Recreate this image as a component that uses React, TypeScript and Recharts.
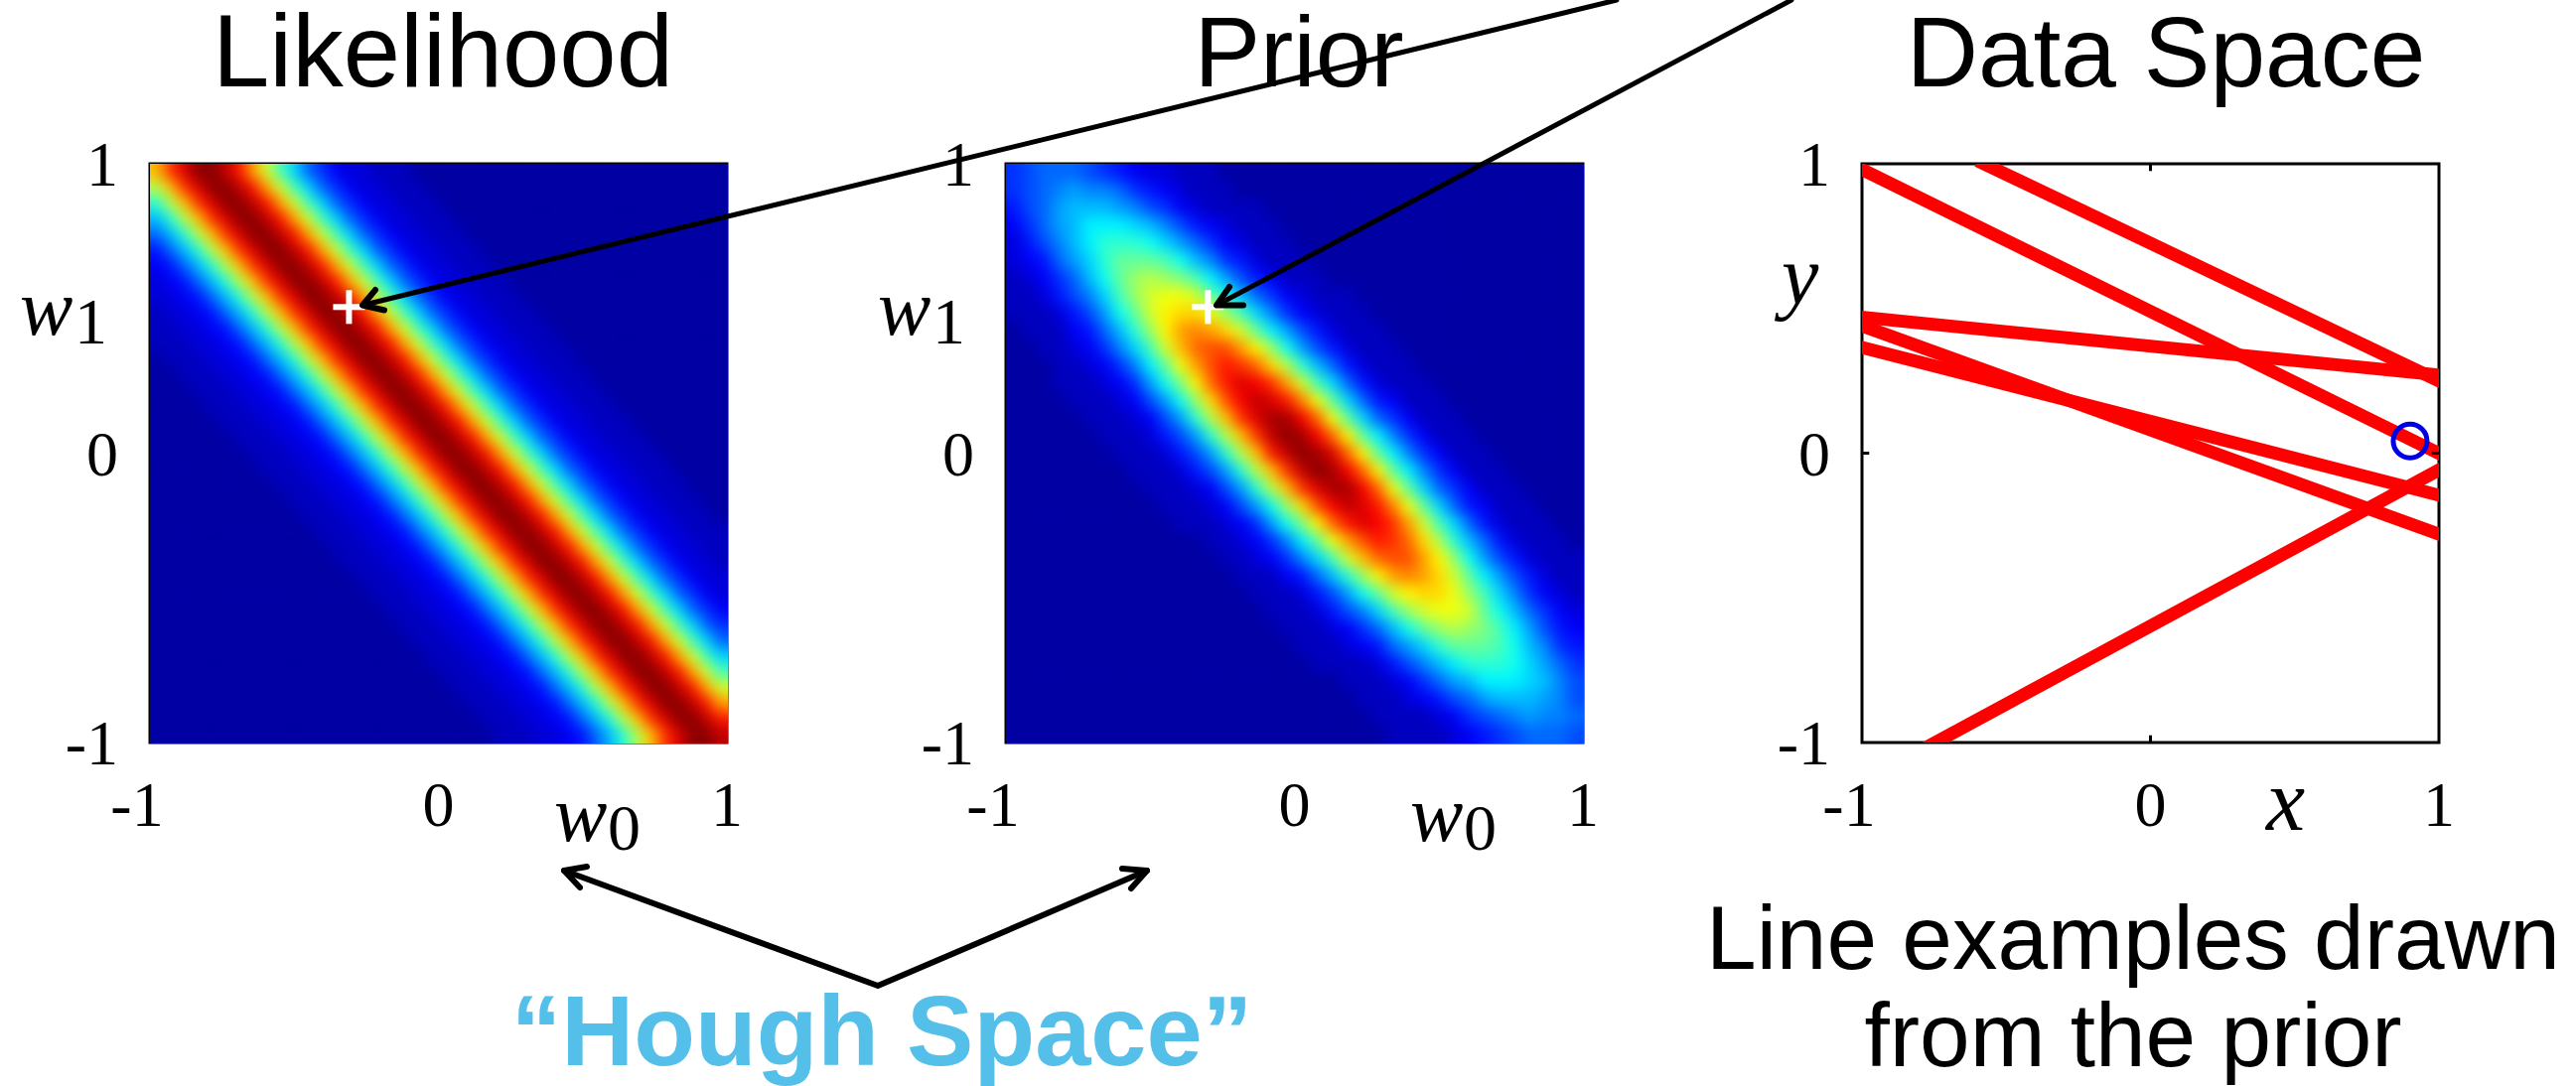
import { ComposedChart, Line, ReferenceArea, ReferenceLine, Scatter, ScatterChart, XAxis, YAxis } from "recharts"

// heatmap levels, base 36 (0 = dark blue, z = dark red), read top row first. rows are 0 on the right where cut short
const likelihoodRows = [
  "otwzzxupkfb75322111",
  "jotwzzxupkfb75322111",
  "ejotwzzxupkfb75322111",
  "aejotwzzxupkfb75322111",
  "7aejotwzzxupkfb75322111",
  "47aejotwzzxupkfb75322111",
  "347aejotwzzxupkfb75322111",
  "2347aejotwzzxupkfb75322111",
  "22347aejotwzzxupkfb75322111",
  "122347aejotwzzxupkfb75322111",
  "1122347aejotwzzxupkfb75322111",
  "11122347aejotwzzxupkfb75322111",
  "011122347aejotwzzxupkfb75322111",
  "0011122347aejotwzzxupkfb75322111",
  "00011122347aejotwzzxupkfb75322111",
  "000011122347aejotwzzxupkfb75322111",
  "0000011122347aejotwzzxupkfb75322111",
  "00000011122347aejotwzzxupkfb75322111",
  "000000011122347aejotwzzxupkfb75322111",
  "0000000011122347aejotwzzxupkfb75322111",
  "00000000011122347aejotwzzxupkfb75322111",
  "000000000011122347aejotwzzxupkfb75322111",
  "0000000000011122347aejotwzzxupkfb75322111",
  "00000000000011122347aejotwzzxupkfb75322111",
  "000000000000011122347aejotwzzxupkfb7532211",
  "0000000000000011122347aejotwzzxupkfb753221",
  "00000000000000011122347aejotwzzxupkfb75322",
  "000000000000000011122347aejotwzzxupkfb7532",
  "0000000000000000011122347aejotwzzxupkfb753",
  "00000000000000000011122347aejotwzzxupkfb75",
  "000000000000000000011122347aejotwzzxupkfb7",
  "0000000000000000000011122347aejotwzzxupkfb",
  "00000000000000000000011122347aejotwzzxupkf",
  "000000000000000000000011122347aejotwzzxupk",
  "0000000000000000000000011122347aejotwzzxup",
  "00000000000000000000000011122347aejotwzzxu",
  "000000000000000000000000011122347aejotwzzx",
]

const priorRows = [
  "56777654322111000",
  "567898875432111000",
  "4679aaa986532111100",
  "3579acccba8643211100",
  "2468aceeedb9753211100",
  "23479begggfda854211100",
  "12357adgijihfc964311100",
  "112468bfikllkgda75321110",
  "1112469dgkmnnlifb85321110",
  "0111347aeimpqpnkgc96421110",
  "00112358bfkorsspmid96421110",
  "000112358cglpsutrnjea7421110",
  "0001112359dhmruwvtpkfb7421110",
  "00001112369dinsvxwuqlgb7431110",
  "000001112369ejotwyyvrlgb7531110",
  "0000001112469ejotxzyvrmgc8531110",
  "00000001112469ejouxzywrmgc8531110",
  "000000001112469ejotxzyvrmgc8531110",
  "0000000001112369ejotwyyvrlgb7531110",
  "00000000001112369dinsvxwuqlgb7431110",
  "000000000001112359dhmruwvtpkfb7421110",
  "0000000000000112358cglpsutrnjea7421110",
  "00000000000000112358bfkorsspmid9642111",
  "000000000000000111347aeimpqpnkgc964211",
  "00000000000000001112469dgkmnnlifb85321",
  "000000000000000001112468bfikllkgda7532",
  "0000000000000000001112357adgijihfc9643",
  "000000000000000000011123479begggfda854",
  "0000000000000000000011112468aceeedb975",
  "000000000000000000000011123579acccba86",
  "00000000000000000000000111234679aaa986",
  "00000000000000000000000011112356789887",
  "00000000000000000000000001111234567776",
]

const axisTicks = [-1, 0, 1]

const likelihoodMarker = [{ w0: -0.31, w1: 0.505 }]
const priorMarker = [{ w0: -0.3, w1: 0.505 }]

// lines drawn from the prior, a little past the frame so the clip cuts them clean
const lineA = [{ x: -1.05, y: 1.005 }, { x: 1.05, y: -0.025 }]
const lineB = [{ x: -0.6, y: 1.011 }, { x: 1.05, y: 0.226 }]
const lineC = [{ x: -1.05, y: 0.475 }, { x: 1.05, y: 0.265 }]
const lineD = [{ x: -1.05, y: 0.458 }, { x: 1.05, y: -0.298 }]
const lineE = [{ x: -1.05, y: 0.378 }, { x: 1.05, y: -0.158 }]
const lineF = [{ x: -0.8, y: -1.029 }, { x: 1.05, y: -0.031 }]
const dataLines = [lineA, lineB, lineC, lineD, lineE, lineF]
const observedPoint = [{ x: 0.9, y: 0.042 }]

const PLOT_W = 581
const PLOT_H = 583
const PLOT_TOP = 165
const Y_AXIS_W = 110
const X_AXIS_H = 100
const SERIF = "'Liberation Serif', serif"
const SANS = "'Liberation Sans', sans-serif"

function clip01(v: number) {
  return Math.max(0, Math.min(1, v))
}

function jet(level: number) {
  const v = 0.035 + 0.955 * (level / 35)
  const r = clip01(1.5 - Math.abs(4 * v - 3))
  const g = clip01(1.5 - Math.abs(4 * v - 2))
  const b = clip01(1.5 - Math.abs(4 * v - 1))
  return `rgb(${Math.round(r * 255)},${Math.round(g * 255)},${Math.round(b * 255)})`
}

function toCells(rows: string[], cols: number) {
  const cells: { w0: number; w1: number; level: number }[] = []
  rows.forEach((row, r) => {
    const full = row.padEnd(cols, "0")
    for (let c = 0; c < cols; c++) {
      cells.push({
        w0: -1 + ((c + 0.5) * 2) / cols,
        w1: 1 - ((r + 0.5) * 2) / rows.length,
        level: parseInt(full[c], 36),
      })
    }
  })
  return cells
}

function XTick({ x, y, payload }: any) {
  return (
    <text x={payload.value < 0 ? x - 13 : x} y={y} dy={44} textAnchor="middle" fontFamily={SERIF} fontSize={64} fill="#000">
      {payload.value}
    </text>
  )
}

function YTick({ x, y, payload }: any) {
  return (
    <text x={x} y={y} dy={22} textAnchor="end" fontFamily={SERIF} fontSize={64} fill="#000">
      {payload.value}
    </text>
  )
}

function frameBits() {
  return [
    <ReferenceLine key="t0" segment={[{ x: 0, y: 1 }, { x: 0, y: 0.975 }]} stroke="#000" strokeWidth={3} />,
    <ReferenceLine key="t1" segment={[{ x: 0, y: -1 }, { x: 0, y: -0.975 }]} stroke="#000" strokeWidth={3} />,
    <ReferenceLine key="t2" segment={[{ x: -1, y: 0 }, { x: -0.975, y: 0 }]} stroke="#000" strokeWidth={3} />,
    <ReferenceLine key="t3" segment={[{ x: 1, y: 0 }, { x: 0.975, y: 0 }]} stroke="#000" strokeWidth={3} />,
    <ReferenceArea key="box" x1={-1} x2={1} y1={-1} y2={1} fill="none" fillOpacity={0} stroke="#000" strokeWidth={3} strokeOpacity={1} ifOverflow="visible" />,
  ]
}

function Heatmap({ left, rows, cols, marker }: { left: number; rows: string[]; cols: number; marker: { w0: number; w1: number }[] }) {
  const cellW = PLOT_W / cols
  const cellH = PLOT_H / rows.length
  return (
    <div style={{ position: "absolute", left: left - Y_AXIS_W, top: 0 }}>
      <ScatterChart
        width={Y_AXIS_W + PLOT_W + 20}
        height={PLOT_TOP + PLOT_H + X_AXIS_H}
        margin={{ top: PLOT_TOP, left: 0, right: 20, bottom: 0 }}
      >
        <XAxis type="number" dataKey="w0" domain={[-1, 1]} ticks={axisTicks} interval={0} height={X_AXIS_H} tickLine={false} axisLine={false} tickMargin={34} tick={<XTick />} />
        <YAxis type="number" dataKey="w1" domain={[-1, 1]} ticks={axisTicks} interval={0} width={Y_AXIS_W} tickLine={false} axisLine={false} tickMargin={26} tick={<YTick />} />
        <Scatter
          className="heat-cells"
          data={toCells(rows, cols)}
          isAnimationActive={false}
          shape={(p: any) => (
            <rect x={p.cx - cellW / 2} y={p.cy - cellH / 2} width={cellW + 0.5} height={cellH + 0.5} fill={jet(p.payload.level)} />
          )}
        />
        {frameBits()}
        <Scatter
          data={marker}
          isAnimationActive={false}
          shape={(p: any) => (
            <g fill="#fff">
              <rect x={p.cx - 16} y={p.cy - 3} width={32} height={6} />
              <rect x={p.cx - 3} y={p.cy - 17} width={6} height={34} />
            </g>
          )}
        />
      </ScatterChart>
    </div>
  )
}

function DataSpace({ left }: { left: number }) {
  return (
    <div style={{ position: "absolute", left: left - Y_AXIS_W, top: 0 }}>
      <ComposedChart
        width={Y_AXIS_W + PLOT_W + 20}
        height={PLOT_TOP + PLOT_H + X_AXIS_H}
        margin={{ top: PLOT_TOP, left: 0, right: 20, bottom: 0 }}
      >
        <XAxis type="number" dataKey="x" domain={[-1, 1]} ticks={axisTicks} interval={0} allowDataOverflow height={X_AXIS_H} tickLine={false} axisLine={false} tickMargin={34} tick={<XTick />} />
        <YAxis type="number" dataKey="y" domain={[-1, 1]} ticks={axisTicks} interval={0} allowDataOverflow width={Y_AXIS_W} tickLine={false} axisLine={false} tickMargin={26} tick={<YTick />} />
        {dataLines.map((line, i) => (
          <Line key={i} data={line} dataKey="y" stroke="#ff0000" strokeWidth={13} dot={false} isAnimationActive={false} />
        ))}
        {frameBits()}
        <Scatter
          data={observedPoint}
          isAnimationActive={false}
          shape={(p: any) => <circle cx={p.cx} cy={p.cy} r={17} fill="none" stroke="#0000e6" strokeWidth={5} />}
        />
      </ComposedChart>
    </div>
  )
}

function Annotations() {
  const ink = { stroke: "#000", fill: "none", strokeLinecap: "round" as const, strokeLinejoin: "round" as const }
  const mathText = { fontFamily: SERIF, fontStyle: "italic", fontSize: 80, fill: "#000" }
  const subText = { fontFamily: SERIF, fontSize: 66, fill: "#000" }
  return (
    <svg width={2594} height={1094} style={{ position: "absolute", left: 0, top: 0 }}>
      <g fontFamily={SANS} textAnchor="middle" fill="#000">
        <text x={446} y={87} fontSize={103}>Likelihood</text>
        <text x={1308} y={87} fontSize={100}>Prior</text>
        <text x={2181} y={87} fontSize={100}>Data Space</text>
      </g>
      <g fontFamily={SANS} fontSize={91} textAnchor="middle" fill="#000">
        <text x={2148} y={976}>Line examples drawn</text>
        <text x={2148} y={1074}>from the prior</text>
      </g>
      <text x={888} y={1073} fontFamily={SANS} fontWeight={700} fontSize={101} textAnchor="middle" fill="#54bfe8">“Hough Space”</text>

      <text x={20} y={337} {...mathText}>w</text>
      <text x={75} y={346} {...subText}>1</text>
      <text x={884} y={337} {...mathText}>w</text>
      <text x={939} y={346} {...subText}>1</text>
      <text x={558} y={847} {...mathText}>w</text>
      <text x={612} y={856} {...subText}>0</text>
      <text x={1420} y={847} {...mathText}>w</text>
      <text x={1474} y={856} {...subText}>0</text>
      <text x={1794} y={306} {...mathText} fontSize={84}>y</text>
      <text x={2282} y={836} {...mathText} fontSize={88}>x</text>

      <g {...ink} strokeWidth={5}>
        <path d="M365 307.5 L1628 0" />
        <path d="M1225 307.5 L1804 0" />
      </g>
      <g {...ink} strokeWidth={6}>
        <path d="M378 292 L365 307.5 L387 312.5" />
        <path d="M1238 289 L1225 307.5 L1252 307.5" />
        <path d="M568 877 L884 993 L1155 877" />
        <path d="M591 873 L568 877 L584 894" />
        <path d="M1130 875 L1155 877 L1139 895" />
      </g>
    </svg>
  )
}

export default function App() {
  return (
    <div style={{ position: "absolute", left: 0, top: 0, width: 2594, height: 1094, background: "#fff", overflow: "hidden" }}>
      <style>{`.heat-cells { filter: url(#heatSmooth); }`}</style>
      <svg width={0} height={0} style={{ position: "absolute" }}>
        <defs>
          <filter id="heatSmooth" x="0" y="0" width="1" height="1" colorInterpolationFilters="sRGB">
            <feGaussianBlur stdDeviation={7} />
            <feComponentTransfer>
              <feFuncA type="linear" slope={60} />
            </feComponentTransfer>
          </filter>
        </defs>
      </svg>
      <Heatmap left={151} rows={likelihoodRows} cols={42} marker={likelihoodMarker} />
      <Heatmap left={1013} rows={priorRows} cols={38} marker={priorMarker} />
      <DataSpace left={1875} />
      <Annotations />
    </div>
  )
}
